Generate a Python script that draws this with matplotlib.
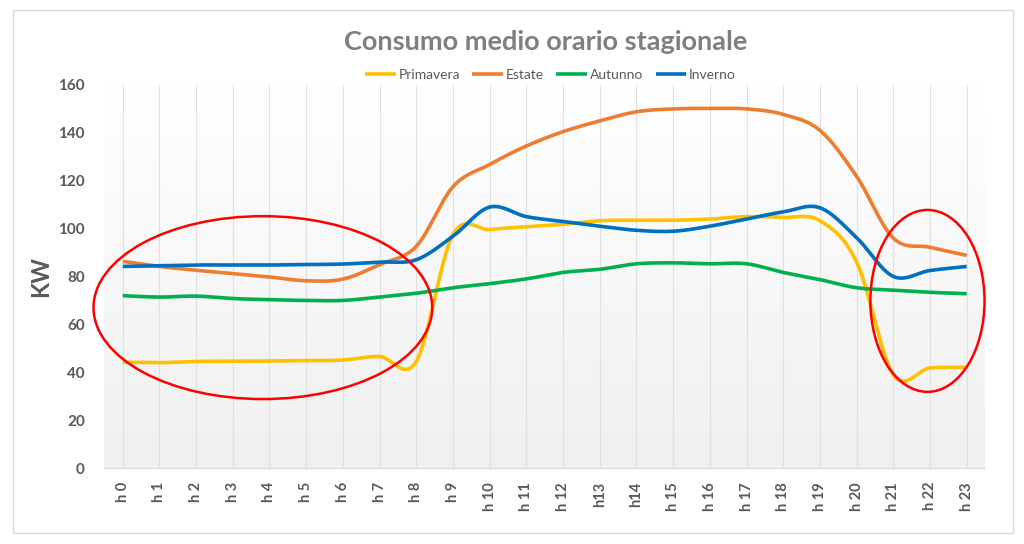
import numpy as np
import matplotlib
matplotlib.use("Agg")
import matplotlib.pyplot as plt
from matplotlib.patches import Ellipse, Rectangle

plt.rcParams['font.family'] = ['Lato', 'DejaVu Sans']

# dati
ore = ["h 0", "h 1", "h 2", "h 3", "h 4", "h 5", "h 6", "h 7", "h 8", "h 9", "h 10", "h 11",
       "h 12", "h13", "h14", "h 15", "h 16", "h 17", "h 18", "h 19", "h 20", "h 21", "h 22", "h 23"]
primavera = [44.2, 44.0, 44.5, 44.6, 44.7, 44.9, 45.1, 46.6, 44.5, 97.5, 99.6, 100.8,
             101.8, 103.3, 103.5, 103.5, 104.0, 105.0, 104.7, 103.3, 86.0, 39.0, 41.8, 42.0]
estate = [86.3, 84.2, 82.6, 81.2, 79.8, 78.2, 78.9, 85.0, 92.6, 117.5, 126.8, 134.5,
          140.5, 145.0, 148.8, 150.0, 150.2, 150.0, 147.7, 141.0, 121.8, 96.0, 92.2, 88.8]
autunno = [72.0, 71.4, 71.8, 70.8, 70.3, 70.0, 70.0, 71.4, 73.0, 75.3, 77.0, 79.0,
           81.7, 83.0, 85.3, 85.7, 85.3, 85.3, 81.7, 78.7, 75.3, 74.3, 73.4, 72.8]
inverno = [84.2, 84.5, 84.8, 84.8, 84.8, 85.0, 85.2, 86.0, 87.0, 96.8, 109.0, 105.0,
           103.0, 101.0, 99.3, 98.9, 101.0, 104.0, 107.0, 108.7, 96.2, 80.0, 82.5, 84.2]

serie = [("Primavera", primavera, "#FFC000"),
         ("Estate", estate, "#ED7D31"),
         ("Autunno", autunno, "#00B050"),
         ("Inverno", inverno, "#0070C0")]


def smooth(y, n=30):
    # linea smussata stile Excel (Catmull-Rom / Bezier)
    y = np.asarray(y, dtype=float)
    x = np.arange(len(y), dtype=float)
    p = np.concatenate([[y[0]], y, [y[-1]]])
    px = np.concatenate([[x[0]], x, [x[-1]]])
    xs, ys = [], []
    t = np.linspace(0, 1, n)
    for i in range(len(y) - 1):
        p0, p1, p2, p3 = p[i], p[i + 1], p[i + 2], p[i + 3]
        q0, q1, q2, q3 = px[i], px[i + 1], px[i + 2], px[i + 3]
        c1 = p1 + (p2 - p0) / 6
        c2 = p2 - (p3 - p1) / 6
        d1 = q1 + (q2 - q0) / 6
        d2 = q2 - (q3 - q1) / 6
        b = [(1 - t) ** 3, 3 * (1 - t) ** 2 * t, 3 * (1 - t) * t ** 2, t ** 3]
        xs.append(b[0] * q1 + b[1] * d1 + b[2] * d2 + b[3] * q2)
        ys.append(b[0] * p1 + b[1] * c1 + b[2] * c2 + b[3] * p2)
    return np.concatenate(xs), np.concatenate(ys)


fig = plt.figure(figsize=(10.24, 5.44), dpi=100)
ax = fig.add_axes([0.1019, 0.1397, 0.8601, 0.7041])

# sfondo sfumato dell'area del grafico
grad = np.linspace(1.0, 0.94, 256).reshape(-1, 1)
grad = np.dstack([grad, grad, grad])
ax.imshow(grad, extent=[-0.5, 23.5, 0, 160], aspect="auto", zorder=0)

x = np.arange(len(ore))
for xi in x:
    ax.axvline(xi, color="#e0e0e0", lw=0.8, zorder=1)

for nome, val, col in serie:
    xs, ys = smooth(val)
    ax.plot(xs, ys, color=col, lw=2.6, label=nome, zorder=3, solid_capstyle="butt")

ax.add_patch(Ellipse((3.82, 67.0), 9.23, 76.4, fill=False, ec="#FF0000", lw=1.8,
                     zorder=4, clip_on=False))
ax.add_patch(Ellipse((21.93, 69.8), 3.11, 76.0, fill=False, ec="#FF0000", lw=1.8,
                     zorder=4, clip_on=False))

ax.set_xlim(-0.5, 23.5)
ax.set_ylim(0, 160)
ax.set_yticks(range(0, 161, 20))
ax.set_xticks(x)
ax.set_xticklabels(ore, rotation=90)
ax.tick_params(length=0)
ax.tick_params(axis="y", labelsize=11, labelcolor="#595959", pad=14)
ax.tick_params(axis="x", labelsize=10.5, labelcolor="#595959", pad=10)
for lab in ax.get_yticklabels() + ax.get_xticklabels():
    lab.set_fontweight("bold")
for s in ["top", "right", "left"]:
    ax.spines[s].set_visible(False)
ax.spines["bottom"].set_color("#d9d9d9")
ax.set_ylabel("KW", fontsize=17, fontweight="bold", color="#595959", labelpad=4)

fig.text(0.533, 1 - 42 / 544, "Consumo medio orario stagionale", ha="center", va="center",
         fontsize=19.5, fontweight="bold", color="#7f7f7f")
fig.legend(loc="center", bbox_to_anchor=(0.5376, 1 - 75 / 544), ncol=4, frameon=False,
           fontsize=10, labelcolor="#595959", handlelength=2.2, handletextpad=0.2,
           columnspacing=0.9)

# cornice esterna
fig.patches.append(Rectangle((13 / 1024, 1 - 533 / 544), 1000 / 1024, 523 / 544,
                             transform=fig.transFigure, fill=False, ec="#d9d9d9", lw=1))

fig.savefig("out.png", dpi=100)
